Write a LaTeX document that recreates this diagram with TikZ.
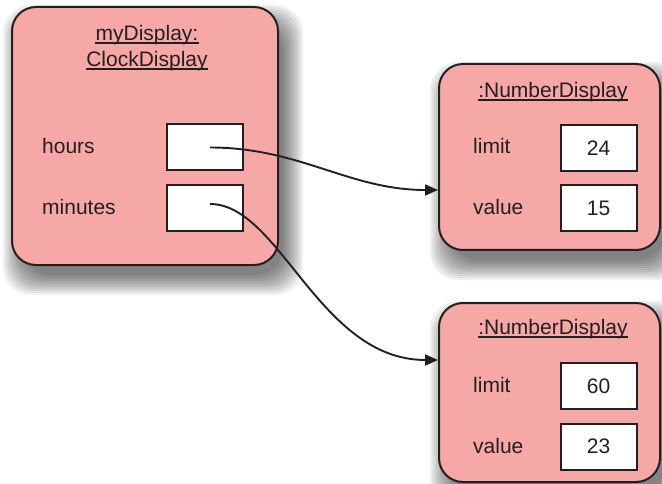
\documentclass[tikz,border=0pt]{standalone}
\usepackage{fontspec}
\setmainfont{Liberation Sans}
\usetikzlibrary{arrows.meta}
\definecolor{salmon}{HTML}{F6A8A6}
\definecolor{ink}{HTML}{231F20}
\newcommand\dropshadow[4]{%
  \foreach \e in {16,14,...,-4}{%
    \fill[black,opacity=0.06,rounded corners=28pt]
      ({#1+7-\e},{#2+14-\e}) rectangle ({#3+9+\e},{#4+14+\e});
  }%
}
\tikzset{
  objbox/.style={draw=ink,fill=salmon,line width=2pt,rounded corners=24pt,inner sep=0pt},
  field/.style={draw=ink,fill=white,line width=2pt,minimum width=76pt,minimum height=46pt,inner sep=0pt,font=\fontsize{21}{25}\selectfont,text=ink},
  lbl/.style={anchor=west,inner sep=0pt,font=\fontsize{21}{25}\selectfont,text=ink},
  ttl/.style={inner sep=0pt,font=\fontsize{21}{25}\selectfont,text=ink},
  uline/.style={draw=ink,line width=1.5pt},
  ref/.style={draw=ink,line width=1.9pt,-{Triangle[length=13pt,width=11pt]}}
}
\begin{document}
\begin{tikzpicture}[x=1pt,y=-1pt]
\useasboundingbox (0,0) rectangle (662,484);
% shadows
\dropshadow{12}{7}{278}{265}
\dropshadow{439}{64}{660}{250}
\dropshadow{439}{303}{660}{482}
% boxes
\node[objbox,minimum width=266pt,minimum height=258pt] (cd) at (145,136) {};
\node[objbox,minimum width=221pt,minimum height=186pt] (nd1) at (549.5,157) {};
\node[objbox,minimum width=221pt,minimum height=179pt] (nd2) at (549.5,392.5) {};
% ClockDisplay
\node[ttl] (cdt1) at (147,35) {myDisplay:};
\node[ttl] (cdt2) at (147,61) {ClockDisplay};
\draw[uline] ([yshift=-2.5pt]cdt1.base west) -- ([yshift=-2.5pt]cdt1.base east);
\draw[uline] ([yshift=-2.5pt]cdt2.base west) -- ([yshift=-2.5pt]cdt2.base east);
\node[lbl] (hl) at (42,146) {hours};
\node[lbl] (ml) at (42,207) {minutes};
\node[field] (hf) at (205,147.5) {};
\node[field] (mf) at (205,208) {};
% NumberDisplay 1
\node[ttl] (n1t) at (553,92) {:NumberDisplay};
\draw[uline] ([yshift=-2.5pt]n1t.base west) -- ([yshift=-2.5pt]n1t.base east);
\node[lbl] (n1l) at (473,146) {limit};
\node[lbl] (n1v) at (473,207) {value};
\node[field] (n1lf) at (598.5,148) {24};
\node[field] (n1vf) at (598.5,208.5) {15};
% NumberDisplay 2
\node[ttl] (n2t) at (553,329) {:NumberDisplay};
\draw[uline] ([yshift=-2.5pt]n2t.base west) -- ([yshift=-2.5pt]n2t.base east);
\node[lbl] (n2l) at (473,385) {limit};
\node[lbl] (n2v) at (473,446) {value};
\node[field] (n2lf) at (598.5,386) {60};
\node[field] (n2vf) at (598.5,446.5) {23};
% references
\coordinate (hs) at ([xshift=5pt]hf.center);
\coordinate (ms) at ([xshift=5pt,yshift=4pt]mf.center);
\coordinate (e1) at ([yshift=-33pt]nd1.west);
\coordinate (e2) at ([yshift=32.5pt]nd2.west);
\draw[ref] (hs) .. controls +(90,0) and +(-89,0) .. (e1);
\draw[ref] (ms) .. controls +(70,0) and +(-119,0) .. (e2);
\end{tikzpicture}
\end{document}
